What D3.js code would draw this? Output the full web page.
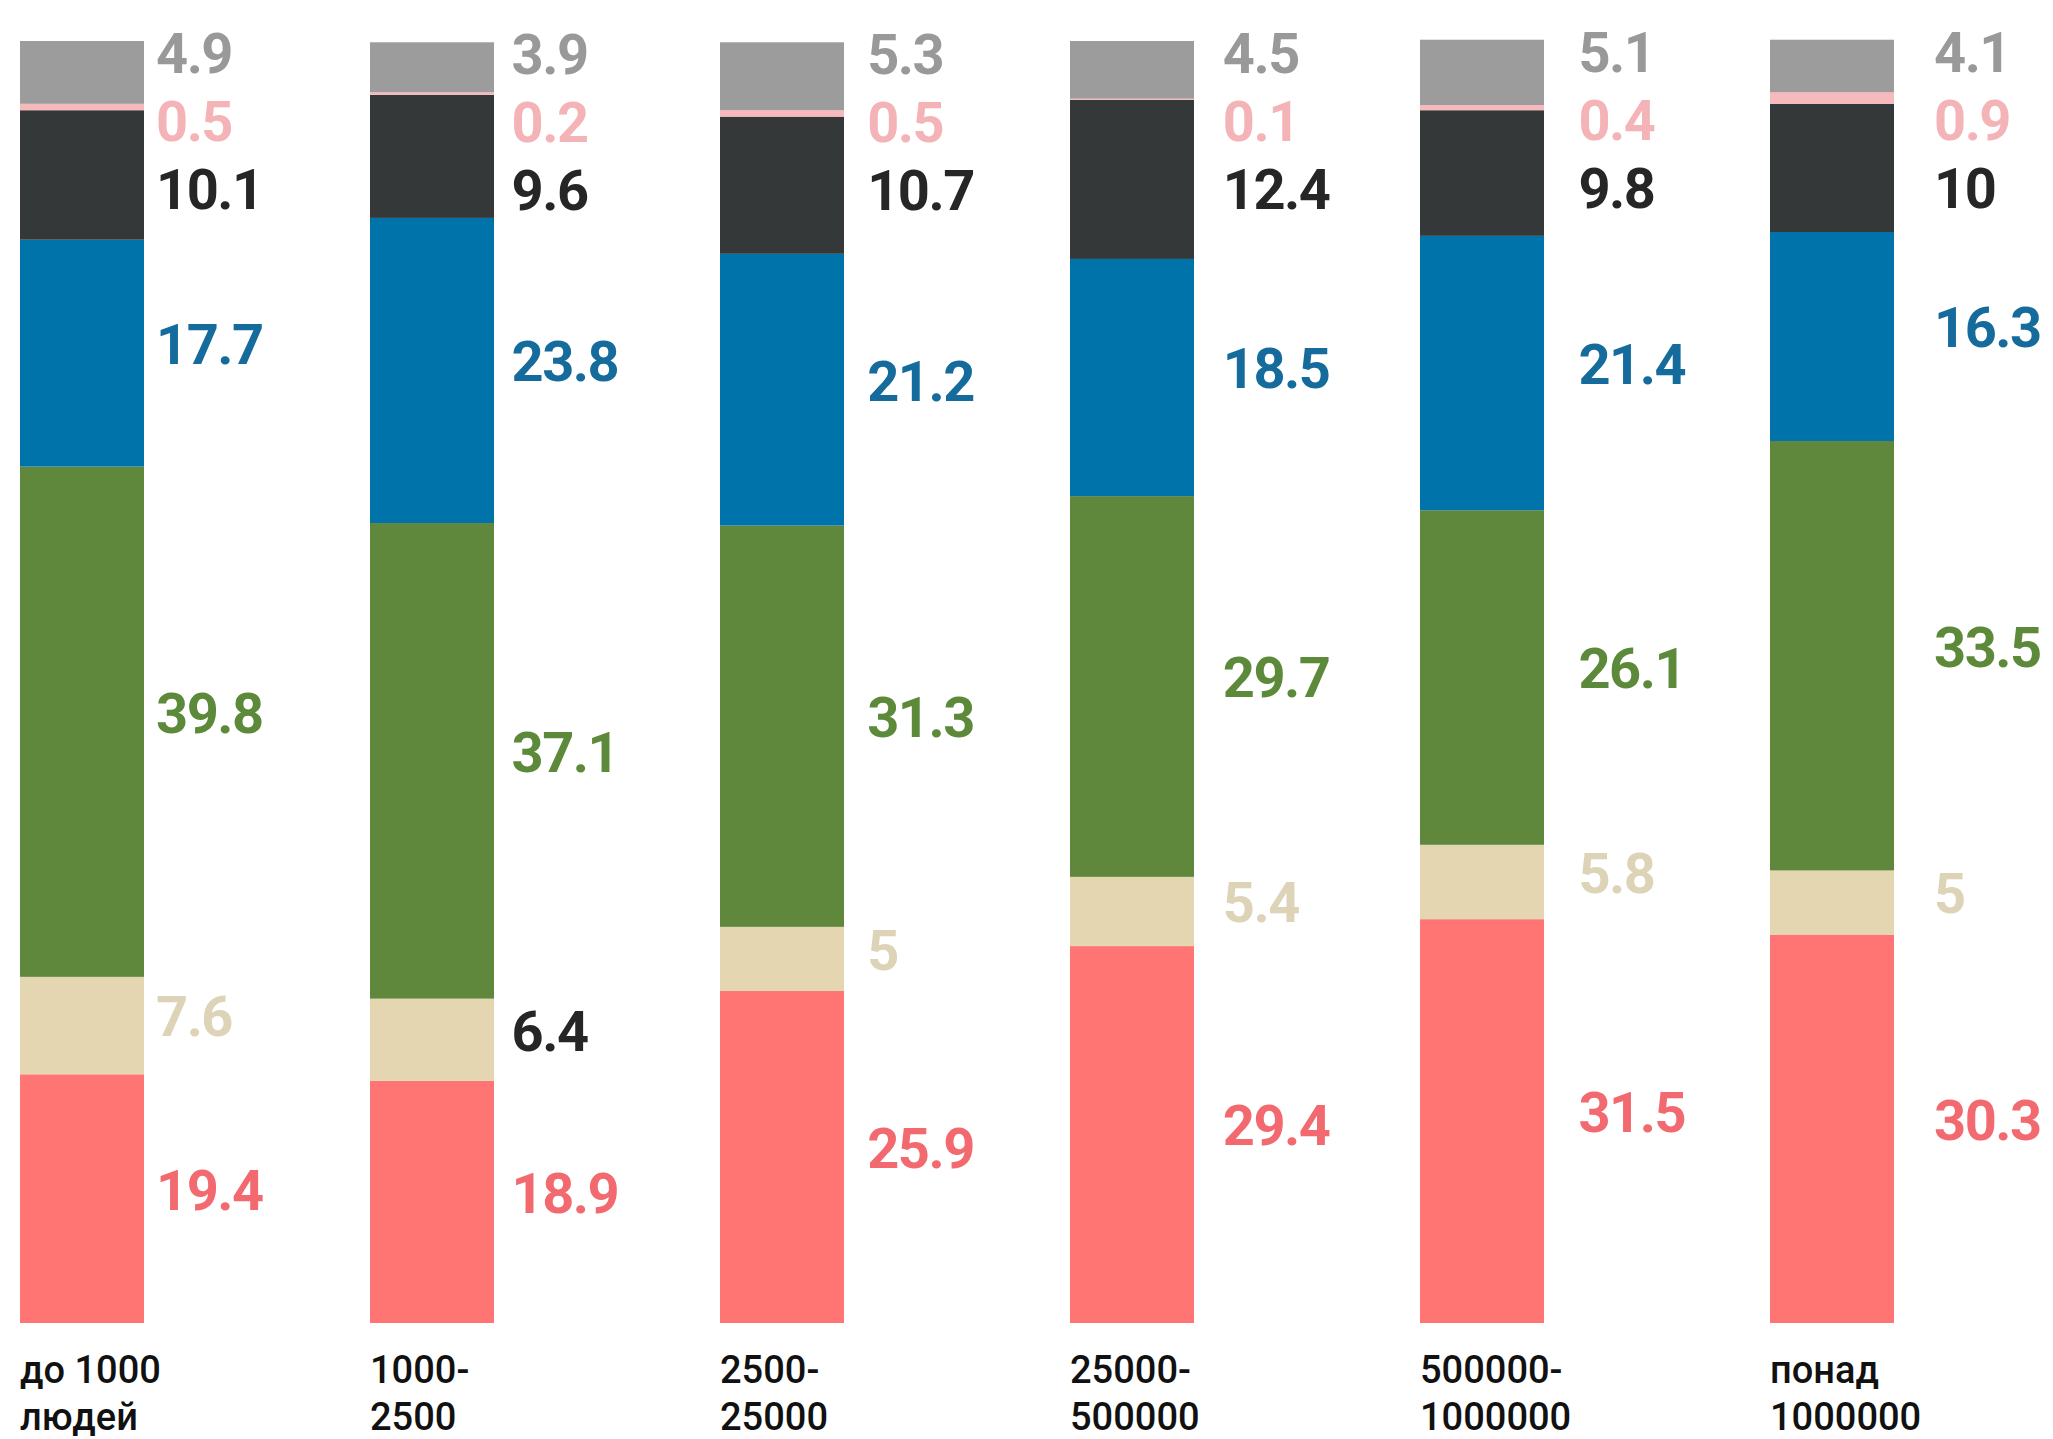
<!DOCTYPE html>
<html>
<head>
<meta charset="utf-8">
<script src="https://cdn.jsdelivr.net/npm/d3@7"></script>
<style>
  html, body { margin: 0; padding: 0; background: #ffffff; }
  svg { display: block; }
</style>
</head>
<body>
<svg id="chart" width="2053" height="1439"></svg>
<script>
// ---- data ----
const categories = ["до 1000 людей", "1000-2500", "2500-25000", "25000-500000", "500000-1000000", "понад 1000000"];
const categoryLines = [["до 1000", "людей"], ["1000-", "2500"], ["2500-", "25000"], ["25000-", "500000"], ["500000-", "1000000"], ["понад", "1000000"]];
// series listed bottom -> top
const seriesKeys = ["red", "beige", "green", "blue", "dark", "pink", "gray"];
const redValues   = [19.4, 18.9, 25.9, 29.4, 31.5, 30.3];
const beigeValues = [7.6, 6.4, 5, 5.4, 5.8, 5];
const greenValues = [39.8, 37.1, 31.3, 29.7, 26.1, 33.5];
const blueValues  = [17.7, 23.8, 21.2, 18.5, 21.4, 16.3];
const darkValues  = [10.1, 9.6, 10.7, 12.4, 9.8, 10];
const pinkValues  = [0.5, 0.2, 0.5, 0.1, 0.4, 0.9];
const grayValues  = [4.9, 3.9, 5.3, 4.5, 5.1, 4.1];

// ---- styles ----
const fillColors = {
  red: "#fe7574", beige: "#e3d6b1", green: "#60883c", blue: "#0073aa",
  dark: "#353839", pink: "#f7b9bb", gray: "#9c9c9c"
};
const labelColors = {
  red: "#f26a70", beige: "#ddd3b6", green: "#5c8a3a", blue: "#156c9c",
  dark: "#262626", pink: "#f4b4b7", gray: "#999999"
};
// one label in the reference is drawn in dark instead of the series colour
const labelColorException = { category: 1, key: "beige", color: "#262626" };

const valuesByKey = {
  red: redValues, beige: beigeValues, green: greenValues, blue: blueValues,
  dark: darkValues, pink: pinkValues, gray: grayValues
};

const table = categories.map((c, i) => {
  const row = { category: c, index: i };
  seriesKeys.forEach(k => row[k] = valuesByKey[k][i]);
  return row;
});

const svg = d3.select("#chart");

const x = d3.scaleBand()
  .domain(d3.range(categories.length))
  .range([20, 1894])
  .paddingInner(1 - 124 / 350)
  .paddingOuter(0);

const xLabel = d3.scalePoint()
  .domain(d3.range(categories.length))
  .range([156, 1934]);

const y = d3.scaleLinear().domain([0, 100]).range([1323, 41]);

const stack = d3.stack().keys(seriesKeys);
const stacked = stack(table);

// bars
svg.append("g")
  .selectAll("g")
  .data(stacked)
  .join("g")
  .attr("fill", d => fillColors[d.key])
  .selectAll("rect")
  .data(d => d.map(p => ({ p, key: d.key })))
  .join("rect")
  .attr("x", d => x(d.p.data.index))
  .attr("width", x.bandwidth())
  .attr("y", d => y(d.p[1]))
  .attr("height", d => Math.max(0, y(d.p[0]) - y(d.p[1])));

// value labels
const fontSize = 56;
const capHalf = fontSize * 0.355;
const minGap = 68;
const labelGroup = svg.append("g")
  .attr("font-family", "Roboto, 'Open Sans', sans-serif")
  .attr("font-weight", 700)
  .attr("font-size", fontSize)
  .attr("letter-spacing", -1.5);

categories.forEach((c, i) => {
  // top-down placement
  const order = seriesKeys.slice().reverse();
  let prev = null;
  order.forEach((k, j) => {
    const s = stacked.find(s => s.key === k)[i];
    const center = (y(s[0]) + y(s[1])) / 2 - 9;
    let cy;
    if (j === 0) cy = y(s[1]) + 12;
    else cy = Math.max(center, prev + minGap);
    prev = cy;
    let col = labelColors[k];
    if (labelColorException.category === i && labelColorException.key === k) col = labelColorException.color;
    labelGroup.append("text")
      .attr("x", xLabel(i))
      .attr("y", cy + capHalf)
      .attr("fill", col)
      .text(valuesByKey[k][i]);
  });
});

// category labels
const catGroup = svg.append("g")
  .attr("font-family", "Roboto, 'Open Sans', sans-serif")
  .attr("font-weight", 500)
  .attr("font-size", 38)
  .attr("fill", "#111111");

categoryLines.forEach((lines, i) => {
  const t = catGroup.append("text")
    .attr("x", x(i))
    .attr("y", 1383);
  lines.forEach((ln, j) => {
    t.append("tspan")
      .attr("x", x(i))
      .attr("y", 1383 + j * 47)
      .text(ln);
  });
});
</script>
</body>
</html>
